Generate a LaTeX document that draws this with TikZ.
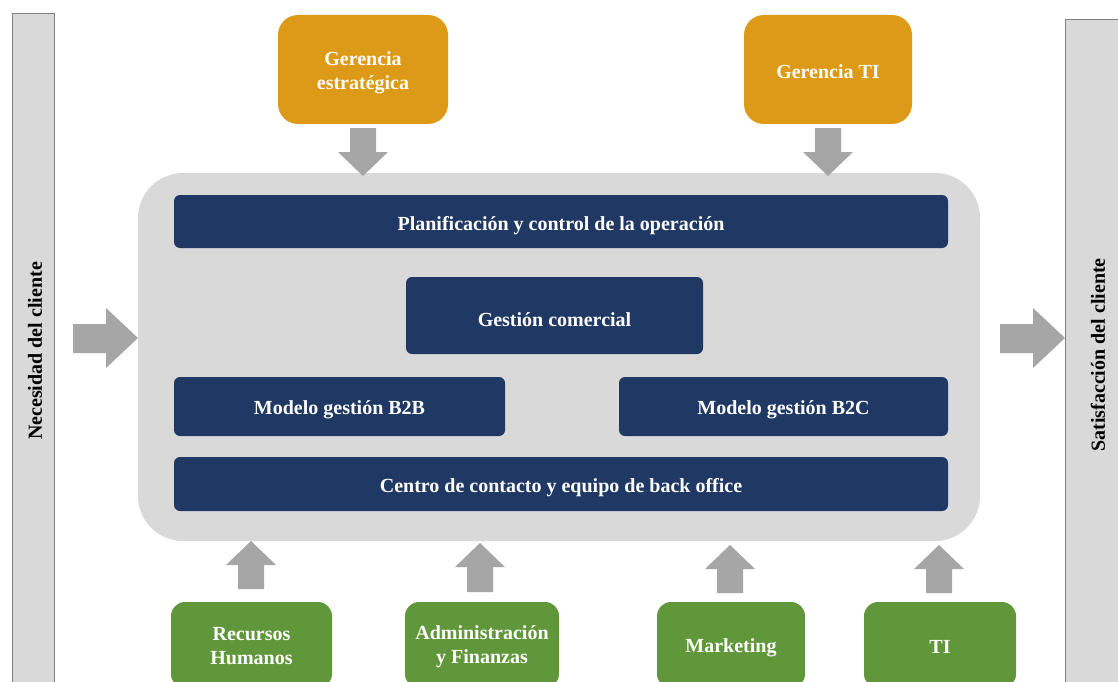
\documentclass[tikz,border=0pt]{standalone}
\usepackage{fontspec}
\setmainfont{Liberation Serif}
\definecolor{navy}{HTML}{203864}
\definecolor{gold}{HTML}{DC9A16}
\definecolor{leaf}{HTML}{5F973A}
\definecolor{panel}{HTML}{D9D9D9}
\definecolor{arrowgrey}{HTML}{A6A6A6}
\definecolor{barline}{HTML}{808080}
\begin{document}
\begin{tikzpicture}[x=1pt,y=-1pt,
  txt/.style={font=\fontsize{20}{24}\selectfont\bfseries, align=center, inner sep=0pt},
  lbl/.style={txt, text=white},
  navybox/.style={fill=navy, rounded corners=6pt, inner sep=0pt},
  goldbox/.style={fill=gold, rounded corners=20pt, inner sep=0pt},
  greenbox/.style={fill=leaf, rounded corners=14pt, inner sep=0pt},
  sidebar/.style={fill=panel, draw=barline, line width=1pt, inner sep=0pt},
  blockarrow/.style={fill=arrowgrey, draw=none}]
\useasboundingbox (0,0) rectangle (1118,682);
\clip (0,0) rectangle (1118,682);
\fill[white] (0,0) rectangle (1118,682);

% side bars
\node[sidebar, minimum width=42pt, minimum height=690pt] (need) at (33,359) {};
\node[txt, rotate=90] (needtxt) at (35,351) {Necesidad del cliente};
\node[sidebar, minimum width=70pt, minimum height=690pt] (sat) at (1100,365) {};
\node[txt, rotate=90] (sattxt) at (1098,355) {Satisfacción del cliente};

% central panel
\node[fill=panel, rounded corners=45pt, minimum width=842pt, minimum height=368pt, inner sep=0pt] (panel) at (559,357) {};

\node[navybox, minimum width=774pt, minimum height=53pt] (plan) at (561,221.5) {};
\node[lbl] (planT) at ([yshift=-4pt]plan.center) {Planificación y control de la operación};
\node[navybox, minimum width=297pt, minimum height=77pt] (gc) at (554.5,315.5) {};
\node[lbl] (gcT) at ([yshift=-4pt]gc.center) {Gestión comercial};
\node[navybox, minimum width=331pt, minimum height=59pt] (b2b) at (339.5,406.5) {};
\node[lbl] (b2bT) at ([yshift=-3pt]b2b.center) {Modelo gestión B2B};
\node[navybox, minimum width=329pt, minimum height=59pt] (b2c) at (783.5,406.5) {};
\node[lbl] (b2cT) at ([yshift=-3pt]b2c.center) {Modelo gestión B2C};
\node[navybox, minimum width=774pt, minimum height=54pt] (cc) at (561,484) {};
\node[lbl] (ccT) at ([yshift=-4pt]cc.center) {Centro de contacto y equipo de back office};

% top boxes
\node[goldbox, minimum width=170pt, minimum height=109pt] (ge) at (363,69.5) {};
\node[lbl] (geT) at ([yshift=-3pt]ge.center) {Gerencia\\estratégica};
\node[goldbox, minimum width=168pt, minimum height=109pt] (gti) at (828,69.5) {};
\node[lbl] (gtiT) at ([yshift=-2pt]gti.center) {Gerencia TI};

% bottom boxes
\node[greenbox, minimum width=161pt, minimum height=86pt] (rh) at (251.5,645) {};
\node[lbl] (rhT) at ([yshift=-1pt]rh.center) {Recursos\\Humanos};
\node[greenbox, minimum width=154pt, minimum height=86pt] (af) at (482,645) {};
\node[lbl] (afT) at ([yshift=-2pt]af.center) {Administración\\y Finanzas};
\node[greenbox, minimum width=148pt, minimum height=86pt] (mk) at (731,645) {};
\node[lbl] (mkT) at ([yshift=-3pt]mk.center) {Marketing};
\node[greenbox, minimum width=152pt, minimum height=86pt] (ti) at (940,645) {};
\node[lbl] (tiT) at ([yshift=-2pt]ti.center) {TI};

% down arrows
\foreach \cx in {363,828}{
  \fill[blockarrow] (\cx-13,128) -- (\cx+13,128) -- (\cx+13,152) -- (\cx+25,152)
    -- (\cx,176) -- (\cx-25,152) -- (\cx-13,152) -- cycle;
}
% up arrows
\foreach \cx/\tip/\base in {251/541/589, 480/543/592, 730/545/593, 939/545/593}{
  \fill[blockarrow] (\cx-13,\base) -- (\cx+13,\base) -- (\cx+13,\tip+24) -- (\cx+25,\tip+24)
    -- (\cx,\tip) -- (\cx-25,\tip+24) -- (\cx-13,\tip+24) -- cycle;
}
% side arrows
\fill[blockarrow] (73,324) -- (106,324) -- (106,308) -- (138,338) -- (106,368) -- (106,353) -- (73,353) -- cycle;
\fill[blockarrow] (1000,324) -- (1033,324) -- (1033,308) -- (1065,338) -- (1033,368) -- (1033,353) -- (1000,353) -- cycle;
\end{tikzpicture}
\end{document}
